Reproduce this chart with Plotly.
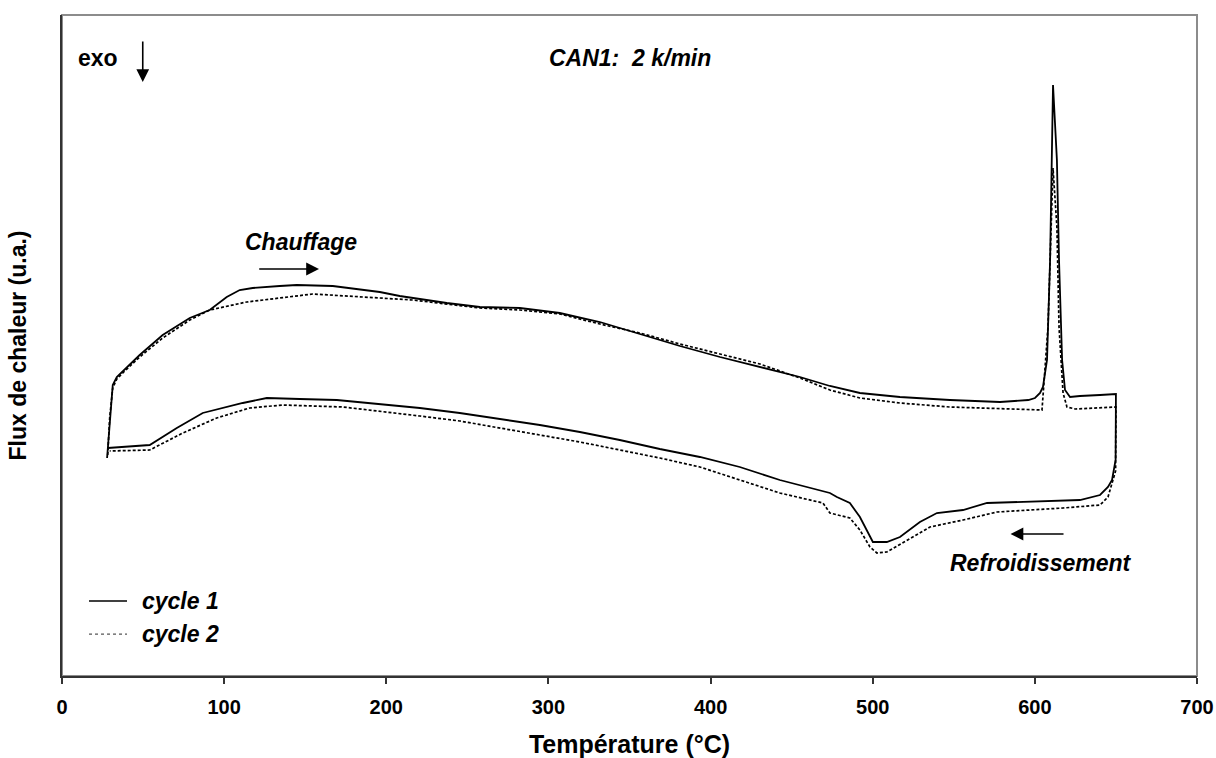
import plotly.graph_objects as go

# ---- data (temperature in °C, heat flux in arbitrary units) ----
# cycle 1: heating branch
heat1_T = [27.8, 29.4, 31.3, 33.8, 38.7, 47.9, 62.1, 78.8, 91.1, 101.6, 109.6, 117.6,
           134.3, 144.8, 167.0, 196.0, 208.3, 237.3, 257.7, 282.4, 307.0, 331.7, 356.4,
           381.1, 405.8, 430.4, 455.1, 473.6, 492.1, 516.8, 547.6, 578.5, 596.0, 600.1,
           603.2, 605.0, 607.5, 609.4, 610.6, 611.2, 613.6, 614.9, 616.8, 618.6, 621.7,
           627.8, 640.2, 650.0]
heat1_Q = [218, 256, 291, 299, 307, 321, 341, 358, 366, 379, 386, 388,
           390, 391, 390, 384, 380, 373, 369, 368, 363, 354, 342,
           330, 319, 309, 299, 290, 283, 279, 276, 274, 276, 278,
           283, 289, 316, 416, 516, 591, 516, 416, 316, 286, 279,
           280, 281, 282]
# cycle 1: cooling branch
cool1_T = [650.0, 649.8, 647.6, 645.1, 640.2, 627.8, 586.5, 570.5, 555.7, 539.6, 529.1,
           516.8, 508.7, 500.1, 492.1, 485.9, 477.9, 473.6, 442.7, 418.0, 393.4, 368.7,
           344.0, 319.4, 294.7, 270.0, 245.3, 220.7, 196.0, 169.5, 146.6, 126.3, 111.5,
           86.8, 70.8, 54.1, 28.2]
cool1_Q = [282, 216, 196, 189, 181, 176, 174, 173, 166, 163, 154,
           139, 134, 134, 159, 173, 179, 183, 196, 209, 219, 227,
           236, 244, 251, 257, 263, 268, 272, 276, 277, 278, 273,
           263, 248, 231, 228]
# cycle 2: heating branch
heat2_T = [28.2, 29.4, 31.3, 33.8, 38.7, 47.9, 62.1, 78.8, 91.1, 113.9, 154.7, 185.5,
           216.3, 257.7, 282.4, 307.0, 331.7, 356.4, 381.1, 405.8, 430.4, 455.1, 473.6,
           492.1, 516.8, 547.6, 578.5, 597.0, 604.4, 608.1, 609.9, 611.2, 613.6, 614.9,
           617.4, 619.8, 624.9, 650.0]
heat2_Q = [221, 258, 288, 297, 305, 319, 338, 356, 366, 374, 382, 379,
           376, 368, 366, 362, 352, 343, 332, 322, 312, 298, 286,
           278, 273, 269, 267, 266, 266, 349, 449, 508, 449, 349,
           283, 269, 267, 269]
# cycle 2: cooling branch
cool2_T = [650.0, 649.8, 647.6, 645.1, 640.2, 617.4, 576.6, 555.7, 535.3, 521.1, 508.7,
           502.6, 498.3, 492.1, 485.9, 473.6, 469.3, 442.7, 418.0, 393.4, 368.7, 344.0,
           319.4, 294.7, 270.0, 245.3, 220.7, 196.0, 173.2, 136.1, 115.7, 95.4, 74.5,
           54.1, 29.4]
cool2_Q = [269, 205, 193, 179, 171, 168, 164, 156, 149, 136, 124,
           123, 129, 146, 158, 163, 173, 183, 196, 209, 218, 226,
           234, 241, 248, 255, 260, 265, 269, 271, 268, 258, 243,
           226, 225]

x_ticks = [0, 100, 200, 300, 400, 500, 600, 700]

FONT = "Liberation Sans, Arial, sans-serif"
BLACK = "#000000"

cycle1_T = heat1_T + cool1_T
cycle1_Q = heat1_Q + cool1_Q
cycle2_T = heat2_T + cool2_T
cycle2_Q = heat2_Q + cool2_Q

fig = go.Figure()
fig.add_trace(go.Scatter(x=cycle2_T, y=cycle2_Q, mode="lines", name="cycle 2",
                         line=dict(color=BLACK, width=1.7, dash="3px,2px"),
                         showlegend=False))
fig.add_trace(go.Scatter(x=cycle1_T, y=cycle1_Q, mode="lines", name="cycle 1",
                         line=dict(color=BLACK, width=1.8),
                         showlegend=False))

def txt(s, x, y, size=23, italic=True, xanchor="center", xref="x", yref="y"):
    inner = f"<i>{s}</i>" if italic else s
    return dict(text=f"<b>{inner}</b>", x=x, y=y, xref=xref, yref=yref,
                showarrow=False, xanchor=xanchor, yanchor="middle",
                font=dict(family=FONT, size=size, color=BLACK))

def arrow(x0, y0, x1, y1):
    return dict(x=x1, y=y1, ax=x0, ay=y0, xref="x", yref="y", axref="x", ayref="y",
                text="", showarrow=True, arrowhead=2, arrowsize=1.6, arrowwidth=1.6,
                arrowcolor=BLACK)

annotations = [
    txt("exo", 22.5, 618, italic=False),
    arrow(49.8, 636, 49.8, 594),
    txt("CAN1:  2 k/min", 350, 618),
    txt("Chauffage", 147.5, 434),
    arrow(120.7, 407, 158.5, 407),
    txt("Refroidissement", 603.5, 113),
    arrow(618.6, 142, 585.0, 142),
    txt("cycle 1", 0.0687, 0.1135, xanchor="left", xref="paper", yref="paper"),
    txt("cycle 2", 0.0687, 0.0635, xanchor="left", xref="paper", yref="paper"),
]

shapes = [
    dict(type="rect", xref="paper", yref="paper", x0=0, x1=1, y0=0, y1=1,
         line=dict(color="#8c8c8c", width=2), layer="below"),
    dict(type="line", xref="paper", yref="paper", x0=0.0238, x1=0.0573, y0=0.1135, y1=0.1135,
         line=dict(color=BLACK, width=1.5)),
    dict(type="line", xref="paper", yref="paper", x0=0.0238, x1=0.0573, y0=0.0635, y1=0.0635,
         line=dict(color="#555555", width=1.2, dash="dot")),
]

fig.update_layout(
    width=1216, height=758,
    margin=dict(l=62, r=19, t=15, b=82, autoexpand=False),
    paper_bgcolor="white", plot_bgcolor="white",
    font=dict(family=FONT, color=BLACK),
    showlegend=False,
    annotations=annotations,
    shapes=shapes,
    xaxis=dict(range=[0, 700], tickvals=x_ticks, ticktext=[f"<b>{v}</b>" for v in x_ticks],
               automargin=False,
               ticks="outside", ticklen=6, tickwidth=1.5, tickcolor="#333333",
               ticklabelstandoff=6,
               showline=True, linecolor="#333333", linewidth=2,
               showgrid=False, zeroline=False,
               tickfont=dict(family=FONT, size=20, color=BLACK),
               title=dict(text="<b>Température (°C)</b>", standoff=20,
                          font=dict(family=FONT, size=25, color=BLACK))),
    yaxis=dict(range=[0, 661], showticklabels=False, ticks="",
               automargin=False,
               showline=True, linecolor="#333333", linewidth=2,
               showgrid=False, zeroline=False,
               title=dict(text="<b>Flux de chaleur (u.a.)</b>", standoff=27,
                          font=dict(family=FONT, size=23, color=BLACK))),
)

fig.write_html("out.html")
